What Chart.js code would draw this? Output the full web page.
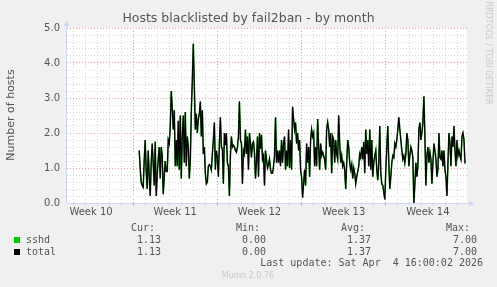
<!DOCTYPE html>
<html>
<head>
<meta charset="utf-8">
<script src="https://cdn.jsdelivr.net/npm/chart.js@4.4.1/dist/chart.umd.min.js"></script>
<style>
  html, body { margin: 0; padding: 0; background: #f0f0f0; }
  canvas { display: block; }
</style>
</head>
<body>
<canvas id="hosts" width="497" height="287"></canvas>
<script>
// semanas del eje x (horas desde el borde izquierdo, 2 h por pixel)
var weekLabels = ['Week 10', 'Week 11', 'Week 12', 'Week 13', 'Week 14'];
var weekStartHours = [-34, 134, 302, 470, 638];
var firstSampleHour = 146;
var sampleStepHours = 2;

// valores, una muestra cada 2 horas
var sshdValues = [
  1.5, 1.0, 0.6, 0.5, 0.45, 1.2, 1.8, 0.9, 0.4, 1.5, 0.8, 0.2, 1.15, 1.7, 1.1, 0.5, 1.75, 0.2, 0.8, 1.25,
  1.6, 0.7, 1.6, 1.35, 0.25, 0.75, 1.2, 0.9, 0.9,
  1.8, 1.7, 2.2, 3.2, 2.7, 2.1, 2.65, 1.05, 1.8, 1.05,
  2.35, 0.95, 2.5, 0.7, 1.9, 2.5, 1.15, 2.6, 1.05, 1.9,
  1.6, 0.7, 1.2, 2.6, 3.5, 4.55, 3.35, 2.1, 2.55, 2.0,
  2.4, 2.55, 2.9, 1.9, 2.65, 1.4, 1.6, 0.85, 0.55, 0.6,
  1.05, 1.1, 1.05, 0.95, 1.4, 1.8, 2.3, 0.95, 1.5, 1.3,
  0.75, 1.7, 2.45, 1.6, 1.55, 0.55, 2.0, 1.65, 2.0, 1.15,
  1.05, 0.2, 1.35, 1.9, 1.6, 1.65, 1.6, 1.5, 1.45, 1.6,
  1.9, 2.9, 1.8, 1.7, 0.55, 1.5, 1.4, 2.1, 1.4, 1.9,
  0.95, 2.0, 1.7, 1.3, 1.7, 1.75, 1.45, 0.7, 1.2, 1.9,
  0.75, 2.0, 1.55, 1.95, 1.25, 1.35, 0.5, 1.5, 1.25, 1.0,
  1.1, 1.25, 0.95, 0.85, 0.85, 1.05, 1.35, 2.45, 1.15, 1.5,
  1.15, 1.5, 1.05, 1.8, 1.15, 1.7, 1.9, 0.95, 1.5, 1.05,
  2.1, 1.0, 1.8, 0.95, 2.75, 2.4, 2.1, 2.3, 1.7, 2.0,
  1.5, 1.8, 0.95, 0.75, 0.15, 0.55, 0.95, 0.5, 1.7, 1.15,
  1.6,
  0.75, 1.8, 2.1, 1.9, 2.0, 1.05, 1.6, 1.05, 2.4, 1.6,
  0.95, 1.7, 1.35, 1.45, 1.35, 1.25, 0.95, 2.1, 2.3, 2.1,
  1.6, 2.0, 0.85, 1.9, 1.8, 1.15, 1.8, 1.4, 1.25, 2.5,
  1.7, 1.15, 1.35, 1.05, 1.15, 0.95, 0.4, 1.15, 1.8, 1.6,
  1.15, 0.95, 1.1, 0.7, 1.0, 0.85, 0.55, 0.75, 0.9, 1.05,
  1.4, 1.3, 1.6, 1.25, 1.75, 0.85, 2.1, 1.4, 1.8, 1.05,
  2.1, 0.95, 1.8, 0.75, 1.15, 1.35, 1.5, 0.95, 0.65, 1.15,
  2.2, 0.85, 0.55, 0.5, 0.3, 0.1, 0.95, 1.6, 2.2, 1.15,
  0.4, 0.75, 1.15, 1.35, 1.3, 1.7, 1.6, 1.8, 2.1, 2.45,
  2.1, 1.8, 1.5, 1.25, 1.35, 1.15, 1.4, 2.0, 1.8, 1.05,
  1.35, 1.6, 1.5, 1.3, 0.0, 0.55, 1.15, 0.75, 1.05, 2.1,
  2.3, 1.8, 2.0, 2.3, 3.05, 1.9, 0.5, 1.35, 1.6, 1.15,
  1.45, 1.25, 0.55, 1.15, 1.7, 1.5, 1.25, 0.75, 0.95, 2.0,
  1.3, 1.25, 1.5, 1.05, 1.5, 0.95, 0.75, 0.2, 1.15, 2.0,
  1.7, 1.05, 1.9, 1.6, 2.2, 1.5, 1.05, 1.8, 1.35, 1.5,
  1.35, 1.25, 1.9, 2.0, 1.8, 1.13
];
// total es igual a sshd (un solo servicio)
var totalValues = sshdValues;

var yTickLabels = ['0.0', '1.0', '2.0', '3.0', '4.0', '5.0'];

var legendNames = ['sshd', 'total'];
var legendColors = ['#00cc00', '#000000'];
var curValues = ['1.13', '1.13'];
var minValues = ['0.00', '0.00'];
var avgValues = ['1.37', '1.37'];
var maxValues = ['7.00', '7.00'];
var lastUpdate = 'Last update: Sat Apr  4 16:00:02 2026';

function toPoints(values) {
  return values.map(function (v, i) {
    return { x: firstSampleHour + i * sampleStepHours, y: v };
  });
}

function mod(a, n) { return ((a % n) + n) % n; }

var AXIS_COLOR = '#cfd6f8';
var MINOR_GRID = '#d6d6d6';
var MAJOR_GRID = '#e49c9c';
var TEXT_COLOR = '#555555';

var fondo = {
  id: 'fondo',
  beforeDraw: function (chart) {
    var ctx = chart.ctx, a = chart.chartArea;
    ctx.save();
    ctx.fillStyle = '#f0f0f0';
    ctx.fillRect(0, 0, chart.width, chart.height);
    ctx.fillStyle = '#ffffff';
    ctx.fillRect(a.left, a.top, a.right - a.left, a.bottom - a.top);
    ctx.restore();
  }
};

var textos = {
  id: 'textos',
  afterDraw: function (chart) {
    var ctx = chart.ctx, a = chart.chartArea;
    ctx.save();
    // flechas de los ejes
    ctx.fillStyle = AXIS_COLOR;
    ctx.strokeStyle = AXIS_COLOR;
    ctx.lineWidth = 1;
    ctx.beginPath();
    ctx.moveTo(a.left + 0.5, a.top);
    ctx.lineTo(a.left + 0.5, a.top - 3);
    ctx.moveTo(a.right, a.bottom + 0.5);
    ctx.lineTo(a.right + 3, a.bottom + 0.5);
    ctx.stroke();
    ctx.beginPath();
    ctx.moveTo(a.left - 2.5, a.top - 2);
    ctx.lineTo(a.left + 3.5, a.top - 2);
    ctx.lineTo(a.left + 0.5, a.top - 7);
    ctx.closePath();
    ctx.fill();
    ctx.beginPath();
    ctx.moveTo(a.right + 2, a.bottom - 2.5);
    ctx.lineTo(a.right + 2, a.bottom + 3.5);
    ctx.lineTo(a.right + 7, a.bottom + 0.5);
    ctx.closePath();
    ctx.fill();

    // titulo
    ctx.fillStyle = TEXT_COLOR;
    ctx.textBaseline = 'middle';
    ctx.textAlign = 'center';
    ctx.font = '12.5px "DejaVu Sans"';
    ctx.fillText('Hosts blacklisted by fail2ban - by month', 248.5, 19);

    // titulo eje y
    ctx.save();
    ctx.translate(11, 115);
    ctx.rotate(-Math.PI / 2);
    ctx.font = '11px "DejaVu Sans"';
    ctx.fillText('Number of hosts', 0, 0);
    ctx.restore();

    // marca lateral
    ctx.save();
    ctx.translate(488, 53);
    ctx.rotate(Math.PI / 2);
    ctx.fillStyle = '#c8c8c8';
    ctx.font = '8px "DejaVu Sans"';
    ctx.fillText('RRDTOOL / TOBI OETIKER', 0, 0);
    ctx.restore();

    // leyenda
    ctx.font = '10px "DejaVu Sans Mono"';
    ctx.fillStyle = TEXT_COLOR;
    ctx.textAlign = 'right';
    ctx.fillText('Cur:', 155, 228);
    ctx.fillText('Min:', 260, 228);
    ctx.fillText('Avg:', 365, 228);
    ctx.fillText('Max:', 470, 228);
    for (var i = 0; i < legendNames.length; i++) {
      var y = 240 + i * 12;
      ctx.fillStyle = legendColors[i];
      ctx.fillRect(14, y - 3, 6, 6);
      ctx.fillStyle = TEXT_COLOR;
      ctx.textAlign = 'left';
      ctx.fillText(legendNames[i], 26, y);
      ctx.textAlign = 'right';
      ctx.fillText(curValues[i], 161, y);
      ctx.fillText(minValues[i], 266, y);
      ctx.fillText(avgValues[i], 371, y);
      ctx.fillText(maxValues[i], 477, y);
    }
    ctx.fillText(lastUpdate, 483, 263.5);

    ctx.textAlign = 'center';
    ctx.fillStyle = '#c8c8c8';
    ctx.font = '8px "DejaVu Sans"';
    ctx.fillText('Munin 2.0.76', 248, 276);
    ctx.restore();
  }
};

new Chart(document.getElementById('hosts').getContext('2d'), {
  type: 'line',
  data: {
    datasets: [
      {
        label: 'sshd',
        data: toPoints(sshdValues),
        borderColor: '#1f8a1f',
        borderWidth: 1.6,
        order: 1
      },
      {
        label: 'total',
        data: toPoints(totalValues),
        borderColor: '#000000',
        borderWidth: 1.1,
        order: 0
      }
    ]
  },
  options: {
    responsive: false,
    animation: false,
    devicePixelRatio: 1,
    layout: { padding: { top: 28, right: 30, bottom: 0, left: 0 } },
    elements: {
      point: { radius: 0 },
      line: { tension: 0, fill: false }
    },
    plugins: {
      legend: { display: false },
      title: { display: false },
      tooltip: { enabled: false }
    },
    scales: {
      x: {
        type: 'linear',
        min: 0,
        max: 800,
        afterFit: function (s) { s.height = 84; },
        afterBuildTicks: function (s) {
          var t = [];
          for (var h = 2; h <= 794; h += 12) t.push({ value: h });
          s.ticks = t;
        },
        ticks: {
          autoSkip: false,
          maxRotation: 0,
          padding: 0,
          color: TEXT_COLOR,
          font: { family: 'DejaVu Sans', size: 10 },
          callback: function (v) {
            for (var i = 0; i < weekStartHours.length; i++) {
              if (v === weekStartHours[i] + 84) return weekLabels[i];
            }
            return '';
          }
        },
        grid: {
          lineWidth: 1,
          tickLength: 3,
          color: function (c) {
            var v = c.tick ? c.tick.value : 0;
            if (mod(v - weekStartHours[1], 168) === 0) return MAJOR_GRID;
            if (mod(v - weekStartHours[1], 24) === 0) return MINOR_GRID;
            return 'rgba(0,0,0,0)';
          }
        },
        border: { color: AXIS_COLOR, dash: [1, 2] }
      },
      y: {
        min: 0,
        max: 5,
        afterFit: function (s) { s.width = 66; },
        afterBuildTicks: function (s) {
          var t = [];
          for (var k = 0; k <= 25; k++) t.push({ value: k / 5 });
          s.ticks = t;
        },
        ticks: {
          autoSkip: false,
          padding: 6,
          color: TEXT_COLOR,
          font: { family: 'DejaVu Sans', size: 10 },
          callback: function (v) {
            var n = Math.round(v);
            return Math.abs(v - n) < 1e-6 ? yTickLabels[n] : '';
          }
        },
        grid: {
          drawTicks: false,
          lineWidth: 1,
          color: function (c) {
            var v = c.tick ? c.tick.value : 0;
            return Math.abs(v - Math.round(v)) < 1e-6 ? MAJOR_GRID : MINOR_GRID;
          }
        },
        border: { color: AXIS_COLOR, dash: [1, 2] }
      }
    }
  },
  plugins: [fondo, textos]
});
</script>
</body>
</html>
